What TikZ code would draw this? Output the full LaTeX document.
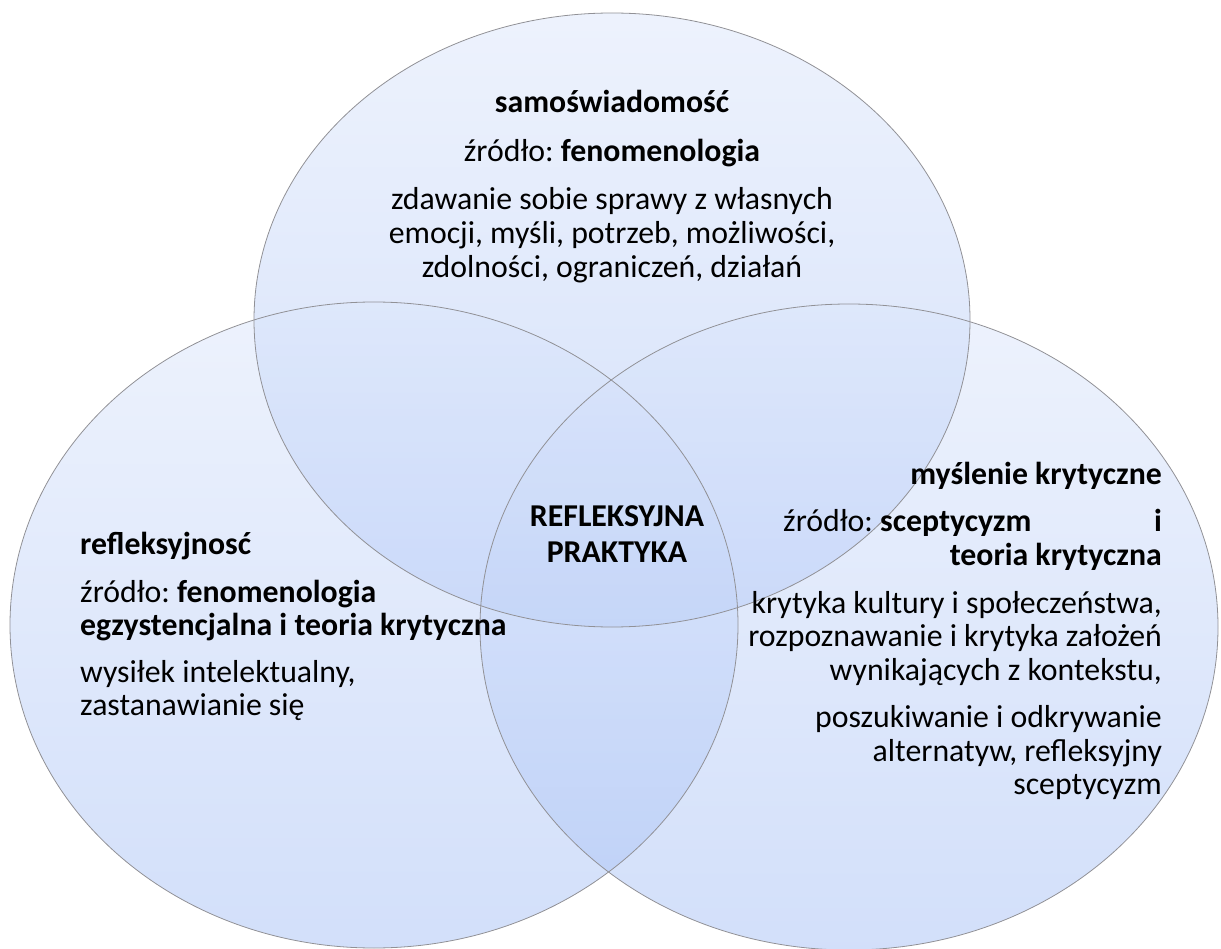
\documentclass[tikz,border=0pt]{standalone}
\usepackage{fontspec}
\setmainfont{Carlito}
\frenchspacing
\definecolor{vtop}{RGB}{220,230,251}
\definecolor{vbot}{RGB}{166,192,245}
\definecolor{vline}{RGB}{145,145,150}
\begin{document}
\begin{tikzpicture}[x=1pt,y=-1pt,
  venn/.style={top color=vtop, bottom color=vbot, fill opacity=0.5},
  vedge/.style={draw=vline, line width=0.8pt},
  txt/.style={inner sep=0pt, font=\fontsize{31.8}{38}\selectfont, text=black}]
\useasboundingbox (0,0) rectangle (1221,949);
\begin{scope}
\clip (0,0) rectangle (1221,949);
\shade[venn] (612,320) ellipse [x radius=358pt, y radius=307pt];
\shade[venn] (374,625) ellipse [x radius=364pt, y radius=323pt];
\shade[venn] (849,627) ellipse [x radius=369pt, y radius=323pt];
\draw[vedge] (612,320) ellipse [x radius=358pt, y radius=307pt];
\draw[vedge] (374,625) ellipse [x radius=364pt, y radius=323pt];
\draw[vedge] (849,627) ellipse [x radius=369pt, y radius=323pt];
\end{scope}
% top circle
\node[txt, anchor=mid] (t1) at (612,110) {\bfseries samoświadomość};
\node[txt, anchor=mid] (t2) at (612,159) {źródło: \textbf{fenomenologia}};
\node[txt, anchor=mid] (t3) at (612,207) {zdawanie sobie sprawy z własnych};
\node[txt, anchor=mid] (t4) at (612,241) {emocji, myśli, potrzeb, możliwości,};
\node[txt, anchor=mid] (t5) at (612,275) {zdolności, ograniczeń, działań};
% centre
\node[txt, anchor=mid] (c1) at (617,524) {\bfseries REFLEKSYJNA};
\node[txt, anchor=mid] (c2) at (617,560) {\bfseries PRAKTYKA};
% left circle
\node[txt, anchor=mid west] (l1) at (80,552) {\bfseries refleksyjnosć};
\node[txt, anchor=mid west] (l2) at (80,600) {źródło: \textbf{fenomenologia}};
\node[txt, anchor=mid west] (l3) at (80,633) {\bfseries egzystencjalna i teoria krytyczna};
\node[txt, anchor=mid west] (l4) at (80,680) {wysiłek intelektualny,};
\node[txt, anchor=mid west] (l5) at (80,713) {zastanawianie się};
% right circle
\node[txt, anchor=mid east] (r1) at (1162,482) {\bfseries myślenie krytyczne};
\node[txt, anchor=mid west] (r2) at (783,529) {źródło: \textbf{sceptycyzm}};
\node[txt, anchor=mid east] (r2b) at (1162,529) {\bfseries i};
\node[txt, anchor=mid east] (r3) at (1162,563) {\bfseries teoria krytyczna};
\node[txt, anchor=mid east] (r4) at (1162,611) {krytyka kultury i społeczeństwa,};
\node[txt, anchor=mid east] (r5) at (1162,644) {rozpoznawanie i krytyka założeń};
\node[txt, anchor=mid east] (r6) at (1162,678) {wynikających z kontekstu,};
\node[txt, anchor=mid east] (r7) at (1162,725) {poszukiwanie i odkrywanie};
\node[txt, anchor=mid east] (r8) at (1162,759) {alternatyw, refleksyjny};
\node[txt, anchor=mid east] (r9) at (1162,792) {sceptycyzm};
\end{tikzpicture}
\end{document}
